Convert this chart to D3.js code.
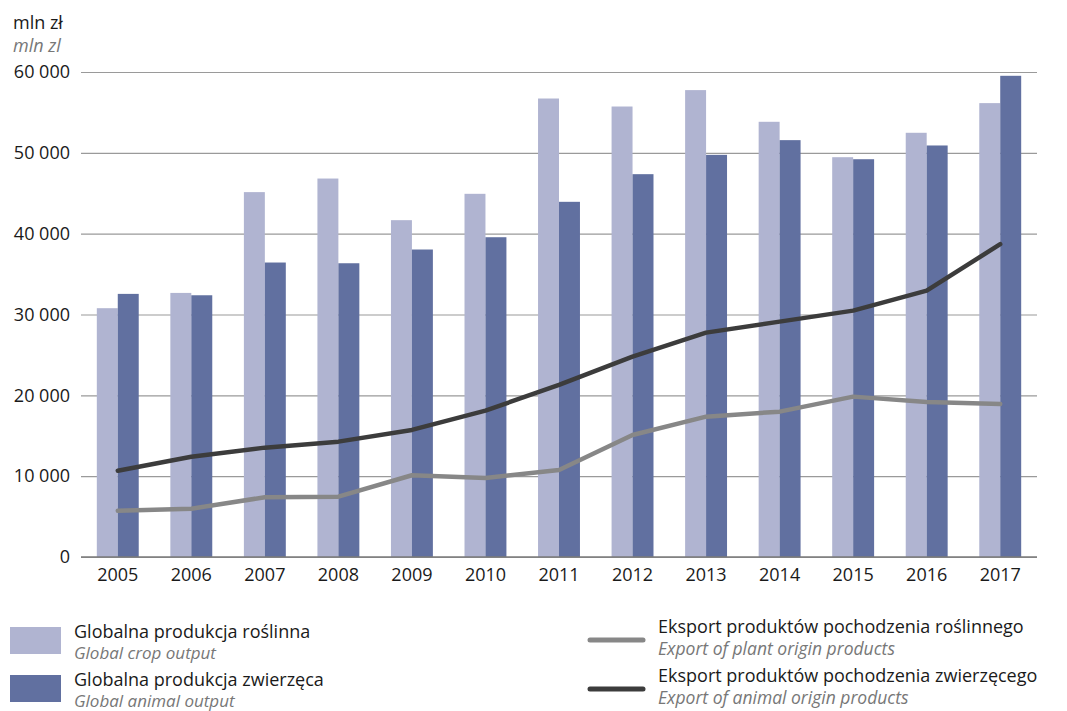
<!DOCTYPE html>
<html>
<head>
<meta charset="utf-8">
<script src="https://cdn.jsdelivr.net/npm/d3@7"></script>
<style>
body { margin: 0; background: #fff; }
svg text { font-family: "Open Sans", "Noto Sans", sans-serif; }
</style>
</head>
<body>
<div id="chart"></div>
<script>
var years = ['2005','2006','2007','2008','2009','2010','2011','2012','2013','2014','2015','2016','2017'];
var cropOutput = [30780, 32670, 45140, 46820, 41670, 44930, 56720, 55730, 57760, 53840, 49460, 52480, 56150];
var animalOutput = [32550, 32380, 36430, 36340, 38040, 39560, 43940, 47360, 49750, 51570, 49210, 50910, 59530];
var plantExport = [5730, 5980, 7390, 7460, 10110, 9780, 10770, 15100, 17360, 17980, 19840, 19180, 18940];
var animalExport = [10680, 12410, 13530, 14270, 15720, 18110, 21290, 24790, 27760, 29120, 30480, 32960, 38700];
var yTicks = [0, 10000, 20000, 30000, 40000, 50000, 60000];
var tickLabels = ['0', '10 000', '20 000', '30 000', '40 000', '50 000', '60 000'];

function drawChart(){
    const width = 1067;
    const height = 711;
    const left = 81, right = 1037, top = 72, bottom = 557;

    const xScale = d3.scaleBand()
        .domain(years)
        .range([left, right])
        .paddingInner(0.43)
        .paddingOuter(0.215);

    const sub = d3.scaleBand()
        .domain(['crop', 'animal'])
        .range([0, xScale.bandwidth()]);

    const yScale = d3.scaleLinear()
        .domain([0, 60000])
        .range([bottom, top]);

    let svg = d3.select('#chart')
        .append('svg')
        .attr('width', width)
        .attr('height', height);

    // gridlines + y labels
    let yAxis = svg.append('g')
        .attr('transform', `translate(${left},0)`)
        .call(d3.axisLeft(yScale)
            .tickValues(yTicks)
            .tickSize(-(right - left))
            .tickPadding(11)
            .tickFormat((d, i) => tickLabels[i]));
    yAxis.select('.domain').remove();
    yAxis.selectAll('line').attr('stroke', '#9a9a9a').attr('stroke-width', 1.2);
    yAxis.selectAll('text')
        .attr('font-size', 18)
        .attr('fill', '#1a1a1a');

    // x labels
    let xAxis = svg.append('g')
        .attr('transform', `translate(0,${bottom})`)
        .call(d3.axisBottom(xScale).tickSize(0).tickPadding(11));
    xAxis.select('.domain').remove();
    xAxis.selectAll('text').attr('font-size', 18).attr('fill', '#1a1a1a');

    // bars
    let groups = svg.selectAll('g.year')
        .data(years)
        .enter()
        .append('g')
        .attr('class', 'year')
        .attr('transform', (d) => `translate(${xScale(d)},0)`);

    groups.append('rect')
        .attr('x', sub('crop'))
        .attr('y', (d, i) => yScale(cropOutput[i]))
        .attr('width', sub.bandwidth())
        .attr('height', (d, i) => bottom - yScale(cropOutput[i]))
        .attr('fill', '#b0b4d1');

    groups.append('rect')
        .attr('x', sub('animal'))
        .attr('y', (d, i) => yScale(animalOutput[i]))
        .attr('width', sub.bandwidth())
        .attr('height', (d, i) => bottom - yScale(animalOutput[i]))
        .attr('fill', '#6170a0');

    // baseline on top of bars
    svg.append('line')
        .attr('x1', left).attr('x2', right)
        .attr('y1', yScale(0)).attr('y2', yScale(0))
        .attr('stroke', '#7a7a7a').attr('stroke-width', 1.3);

    // lines
    const line = d3.line()
        .x((d, i) => xScale(years[i]) + xScale.bandwidth() / 2)
        .y((d) => yScale(d));

    svg.append('path')
        .datum(plantExport)
        .attr('d', line)
        .attr('fill', 'none')
        .attr('stroke', '#878787')
        .attr('stroke-width', 4.5)
        .attr('stroke-linecap', 'round')
        .attr('stroke-linejoin', 'round');

    svg.append('path')
        .datum(animalExport)
        .attr('d', line)
        .attr('fill', 'none')
        .attr('stroke', '#3c3c3c')
        .attr('stroke-width', 4.5)
        .attr('stroke-linecap', 'round')
        .attr('stroke-linejoin', 'round');

    // unit title
    svg.append('text')
        .attr('x', 13).attr('y', 29)
        .attr('font-size', 18).attr('fill', '#1a1a1a')
        .text('mln zł');
    svg.append('text')
        .attr('x', 13).attr('y', 52)
        .attr('font-size', 18).attr('font-style', 'italic').attr('fill', '#777')
        .text('mln zl');

    // legend
    const legendBars = [
        { pl: 'Globalna produkcja roślinna', en: 'Global crop output', color: '#b0b4d1', y: 627 },
        { pl: 'Globalna produkcja zwierzęca', en: 'Global animal output', color: '#6170a0', y: 675 }
    ];
    const legendLines = [
        { pl: 'Eksport produktów pochodzenia roślinnego', en: 'Export of plant origin products', color: '#878787', y: 640 },
        { pl: 'Eksport produktów pochodzenia zwierzęcego', en: 'Export of animal origin products', color: '#3c3c3c', y: 689 }
    ];

    legendBars.forEach(function(item){
        svg.append('rect')
            .attr('x', 10).attr('y', item.y)
            .attr('width', 51).attr('height', 27)
            .attr('fill', item.color);
        svg.append('text')
            .attr('x', 74).attr('y', item.y + 11)
            .attr('font-size', 18).attr('fill', '#1a1a1a')
            .text(item.pl);
        svg.append('text')
            .attr('x', 74).attr('y', item.y + 32)
            .attr('font-size', 17).attr('font-style', 'italic').attr('fill', '#777')
            .text(item.en);
    });

    legendLines.forEach(function(item){
        svg.append('line')
            .attr('x1', 590).attr('x2', 643)
            .attr('y1', item.y).attr('y2', item.y)
            .attr('stroke', item.color)
            .attr('stroke-width', 5)
            .attr('stroke-linecap', 'round');
        svg.append('text')
            .attr('x', 658).attr('y', item.y - 7)
            .attr('font-size', 18).attr('fill', '#1a1a1a')
            .text(item.pl);
        svg.append('text')
            .attr('x', 658).attr('y', item.y + 15)
            .attr('font-size', 17.5).attr('font-style', 'italic').attr('fill', '#777')
            .text(item.en);
    });
}

drawChart();
</script>
</body>
</html>
